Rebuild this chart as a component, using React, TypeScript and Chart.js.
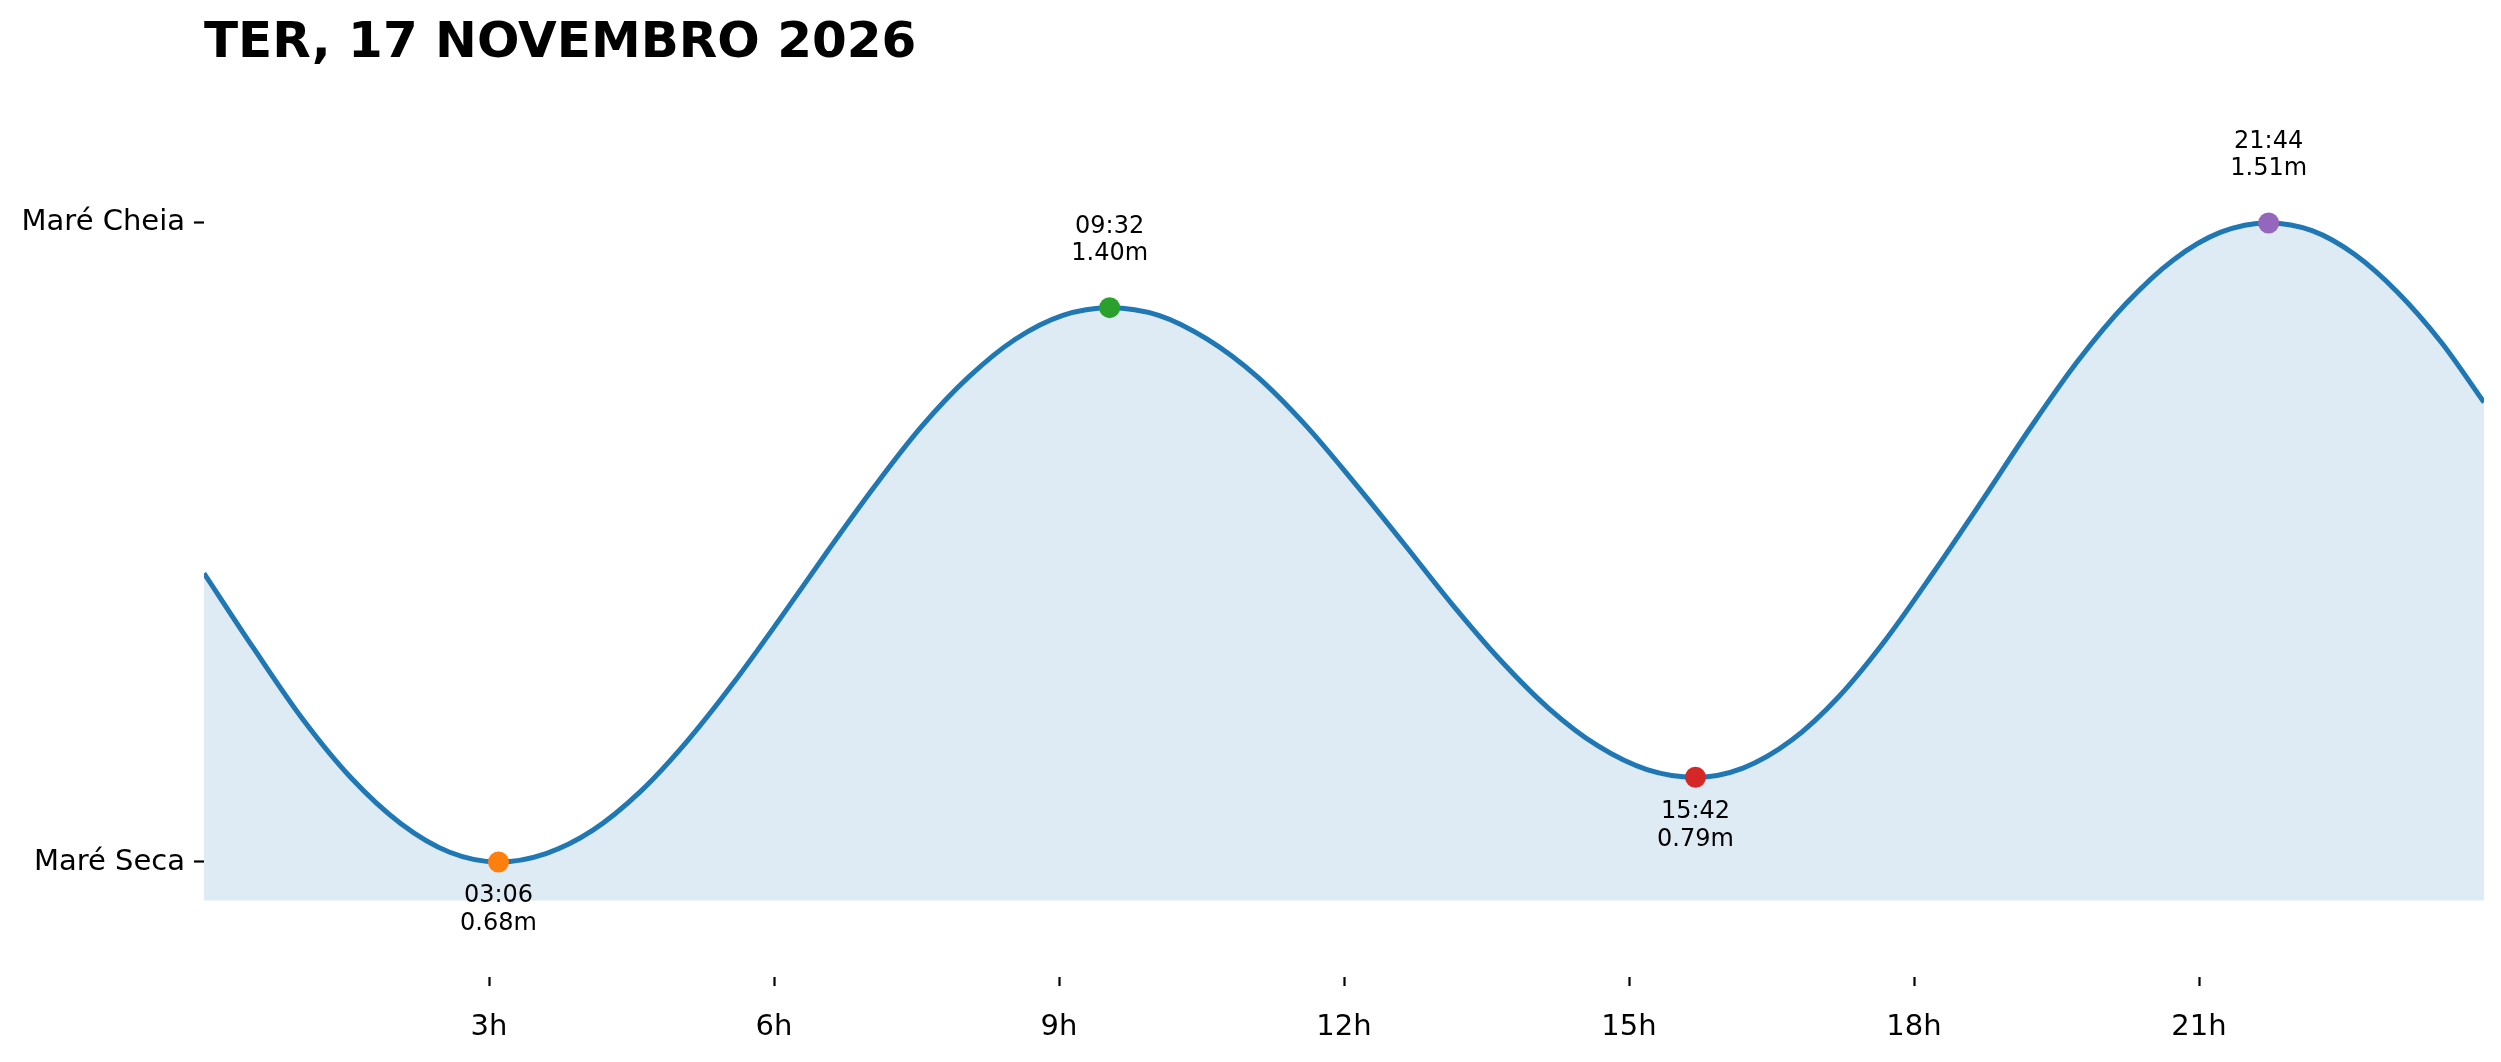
import React, { useEffect, useRef } from "react";
import { Chart, registerables } from "chart.js";

Chart.register(...registerables);

const TITLE = "TER, 17 NOVEMBRO 2026";

// Tide curve (hours, metres)
const curveHours = [
  0, 0.52, 1.03, 1.55, 2.07, 2.58, 3.1,
  3.6, 4.09, 4.59, 5.08, 5.57, 6.07, 6.56, 7.06, 7.55, 8.05, 8.54, 9.04, 9.533,
  10.05, 10.56, 11.08, 11.59, 12.1, 12.62, 13.13, 13.64, 14.16, 14.67, 15.19, 15.7,
  16.2, 16.71, 17.21, 17.71, 18.21, 18.72, 19.22, 19.72, 20.23, 20.73, 21.23, 21.733,
  22.19, 22.64, 23.09, 23.55, 24,
];
const curveHeights = [
  1.055, 0.958, 0.867, 0.789, 0.73, 0.693, 0.68,
  0.691, 0.721, 0.771, 0.836, 0.912, 0.997, 1.083, 1.168, 1.245, 1.31, 1.359, 1.39, 1.4,
  1.39, 1.359, 1.311, 1.248, 1.174, 1.095, 1.016, 0.943, 0.879, 0.831, 0.8, 0.79,
  0.802, 0.838, 0.895, 0.97, 1.057, 1.15, 1.243, 1.33, 1.405, 1.462, 1.498, 1.51,
  1.5, 1.469, 1.42, 1.355, 1.277,
];

// Extremes
const extremeHours = [3.1, 9.533, 15.7, 21.733];
const extremeHeights = [0.68, 1.4, 0.79, 1.51];
const extremeTimeLabels = ["03:06", "09:32", "15:42", "21:44"];
const extremeHeightLabels = ["0.68m", "1.40m", "0.79m", "1.51m"];
const extremeIsHigh = [false, true, false, true];
const extremeColors = ["#ff7f0e", "#2ca02c", "#d62728", "#9467bd"];

// Axis ticks
const xTickHours = [3, 6, 9, 12, 15, 18, 21];
const yTickValues = [0.68, 1.51];
const yTickLabels = ["Maré Seca", "Maré Cheia"];

const FONT = "'DejaVu Sans', sans-serif";

export default function App() {
  const ref = useRef<HTMLCanvasElement>(null);

  useEffect(() => {
    document.body.style.margin = "0";
    const canvas = ref.current!;
    const annotPlugin = {
      id: "annot",
      afterDatasetsDraw(chart: any) {
        const ctx = chart.ctx;
        const xs = chart.scales.x;
        const ys = chart.scales.y;
        ctx.save();
        ctx.fillStyle = "#000";
        ctx.font = `24px ${FONT}`;
        ctx.textAlign = "center";
        ctx.textBaseline = "middle";
        extremeHours.forEach((h, i) => {
          const px = xs.getPixelForValue(h);
          const py = ys.getPixelForValue(extremeHeights[i]);
          if (extremeIsHigh[i]) {
            ctx.fillText(extremeTimeLabels[i], px, py - 81);
            ctx.fillText(extremeHeightLabels[i], px, py - 54);
          } else {
            ctx.fillText(extremeTimeLabels[i], px, py + 34);
            ctx.fillText(extremeHeightLabels[i], px, py + 62);
          }
        });
        ctx.restore();
      },
      afterDraw(chart: any) {
        const ctx = chart.ctx;
        ctx.save();
        ctx.fillStyle = "#000";
        ctx.font = `bold 50px ${FONT}`;
        ctx.textAlign = "left";
        ctx.textBaseline = "alphabetic";
        ctx.fillText(TITLE, chart.chartArea.left, 57);
        ctx.restore();
      },
    };

    const chart = new Chart(canvas, {
      type: "line",
      data: {
        datasets: [
          {
            data: curveHours.map((h, i) => ({ x: h, y: curveHeights[i] })),
            borderColor: "#1f77b4",
            borderWidth: 5,
            backgroundColor: "rgba(31,119,180,0.15)",
            fill: { value: 0.63 },
            pointRadius: 0,
            cubicInterpolationMode: "monotone",
            borderJoinStyle: "round",
            order: 1,
          } as any,
          ...extremeHours.map((h, i) => ({
            data: [{ x: h, y: extremeHeights[i] }],
            showLine: false,
            pointRadius: 10.5,
            pointBackgroundColor: extremeColors[i],
            pointBorderWidth: 0,
            borderColor: extremeColors[i],
            order: 0,
          })),
        ],
      },
      options: {
        responsive: false,
        animation: false,
        devicePixelRatio: 1,
        layout: { padding: { top: 86, right: 17, left: 0, bottom: 0 } },
        plugins: {
          legend: { display: false },
          tooltip: { enabled: false },
          title: { display: false },
        },
        scales: {
          x: {
            type: "linear",
            min: 0,
            max: 24,
            afterBuildTicks: (scale: any) => {
              scale.ticks = xTickHours.map((v) => ({ value: v }));
            },
            afterFit: (scale: any) => {
              scale.height = 85;
            },
            ticks: {
              callback: (v: any) => `${v}h`,
              color: "#000",
              font: { family: FONT, size: 29 },
              padding: 24,
              maxRotation: 0,
              autoSkip: false,
            },
            grid: {
              display: true,
              drawOnChartArea: false,
              drawTicks: true,
              tickLength: 9,
              tickWidth: 2.2,
              tickColor: "#000",
            },
            border: { display: false },
          },
          y: {
            type: "linear",
            min: 0.5306,
            max: 1.6879,
            afterBuildTicks: (scale: any) => {
              scale.ticks = yTickValues.map((v) => ({ value: v }));
            },
            afterFit: (scale: any) => {
              scale.width = 204;
            },
            ticks: {
              callback: (v: any) => {
                const idx = yTickValues.indexOf(Number(v));
                return idx >= 0 ? yTickLabels[idx] : "";
              },
              color: "#000",
              font: { family: FONT, size: 29 },
              padding: 9,
              autoSkip: false,
            },
            grid: {
              display: true,
              drawOnChartArea: false,
              drawTicks: true,
              tickLength: 10,
              tickWidth: 2.2,
              tickColor: "#000",
            },
            border: { display: false },
          },
        },
      } as any,
      plugins: [annotPlugin],
    });
    return () => chart.destroy();
  }, []);

  return (
    <div style={{ width: 2501, height: 1062 }}>
      <canvas ref={ref} width={2501} height={1062} style={{ width: 2501, height: 1062, display: "block" }} />
    </div>
  );
}
